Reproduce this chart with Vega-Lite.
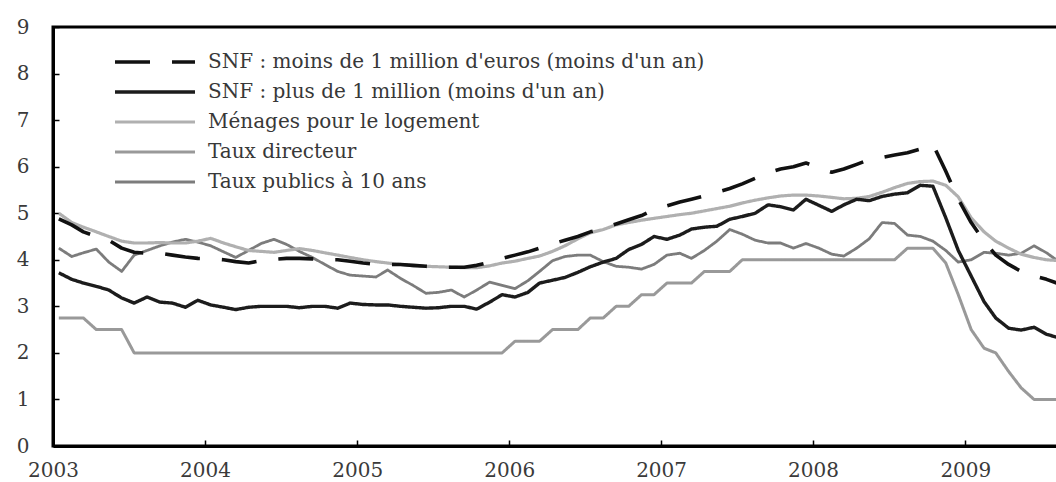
{
  "$schema": "https://vega.github.io/schema/vega-lite/v6.json",
  "width": 1006,
  "height": 419,
  "autosize": {"type": "none"},
  "padding": {"left": 53, "top": 27, "right": 0, "bottom": 36},
  "background": "white",
  "config": {
    "view": {"stroke": "black", "strokeWidth": 3},
    "axis": {
      "labelFont": "DejaVu Serif",
      "labelFontSize": 20,
      "labelColor": "#3a3a3a",
      "domainColor": "black",
      "domainWidth": 3,
      "tickColor": "black",
      "tickWidth": 1.5,
      "tickSize": -6,
      "grid": false,
      "title": null
    }
  },
  "datasets": {
    "series": [
      {"code": "snf_moins", "serie": "SNF : moins de 1 million d'euros (moins d'un an)"},
      {"code": "snf_plus", "serie": "SNF : plus de 1 million (moins d'un an)"},
      {"code": "menages", "serie": "Ménages pour le logement"},
      {"code": "directeur", "serie": "Taux directeur"},
      {"code": "publics", "serie": "Taux publics à 10 ans"}
    ]
  },
  "data": {
    "values": [
      {"d": "2003-01-15", "snf_moins": 4.88, "snf_plus": 3.72, "menages": 5.0, "directeur": 2.75, "publics": 4.25},
      {"d": "2003-02-15", "snf_moins": 4.75, "snf_plus": 3.58, "menages": 4.8, "directeur": 2.75, "publics": 4.07},
      {"d": "2003-03-15", "snf_moins": 4.6, "snf_plus": 3.5, "menages": 4.7, "directeur": 2.75, "publics": 4.15},
      {"d": "2003-04-15", "snf_moins": 4.5, "snf_plus": 3.43, "menages": 4.6, "directeur": 2.5, "publics": 4.23},
      {"d": "2003-05-15", "snf_moins": 4.42, "snf_plus": 3.35, "menages": 4.5, "directeur": 2.5, "publics": 3.95},
      {"d": "2003-06-15", "snf_moins": 4.25, "snf_plus": 3.18, "menages": 4.4, "directeur": 2.5, "publics": 3.75},
      {"d": "2003-07-15", "snf_moins": 4.16, "snf_plus": 3.07, "menages": 4.36, "directeur": 2.0, "publics": 4.1},
      {"d": "2003-08-15", "snf_moins": 4.14, "snf_plus": 3.2, "menages": 4.36, "directeur": 2.0, "publics": 4.2},
      {"d": "2003-09-15", "snf_moins": 4.14, "snf_plus": 3.09, "menages": 4.37, "directeur": 2.0, "publics": 4.3},
      {"d": "2003-10-15", "snf_moins": 4.1, "snf_plus": 3.07, "menages": 4.36, "directeur": 2.0, "publics": 4.38},
      {"d": "2003-11-15", "snf_moins": 4.06, "snf_plus": 2.98, "menages": 4.36, "directeur": 2.0, "publics": 4.44},
      {"d": "2003-12-15", "snf_moins": 4.03, "snf_plus": 3.13, "menages": 4.4, "directeur": 2.0, "publics": 4.38},
      {"d": "2004-01-15", "snf_moins": 4.02, "snf_plus": 3.03, "menages": 4.46, "directeur": 2.0, "publics": 4.3},
      {"d": "2004-02-15", "snf_moins": 4.0, "snf_plus": 2.98, "menages": 4.36, "directeur": 2.0, "publics": 4.17},
      {"d": "2004-03-15", "snf_moins": 3.96, "snf_plus": 2.93, "menages": 4.28, "directeur": 2.0, "publics": 4.05},
      {"d": "2004-04-15", "snf_moins": 3.93, "snf_plus": 2.98, "menages": 4.2, "directeur": 2.0, "publics": 4.2},
      {"d": "2004-05-15", "snf_moins": 3.98, "snf_plus": 3.0, "menages": 4.18, "directeur": 2.0, "publics": 4.35},
      {"d": "2004-06-15", "snf_moins": 4.01, "snf_plus": 3.0, "menages": 4.16, "directeur": 2.0, "publics": 4.44},
      {"d": "2004-07-15", "snf_moins": 4.03, "snf_plus": 3.0, "menages": 4.2, "directeur": 2.0, "publics": 4.33},
      {"d": "2004-08-15", "snf_moins": 4.03, "snf_plus": 2.97, "menages": 4.24, "directeur": 2.0, "publics": 4.18},
      {"d": "2004-09-15", "snf_moins": 4.02, "snf_plus": 3.0, "menages": 4.2, "directeur": 2.0, "publics": 4.05},
      {"d": "2004-10-15", "snf_moins": 4.0, "snf_plus": 3.0, "menages": 4.15, "directeur": 2.0, "publics": 3.9},
      {"d": "2004-11-15", "snf_moins": 4.0, "snf_plus": 2.96, "menages": 4.1, "directeur": 2.0, "publics": 3.75},
      {"d": "2004-12-15", "snf_moins": 3.97, "snf_plus": 3.07, "menages": 4.05, "directeur": 2.0, "publics": 3.67},
      {"d": "2005-01-15", "snf_moins": 3.93, "snf_plus": 3.04, "menages": 4.0, "directeur": 2.0, "publics": 3.65},
      {"d": "2005-02-15", "snf_moins": 3.9, "snf_plus": 3.03, "menages": 3.96, "directeur": 2.0, "publics": 3.63},
      {"d": "2005-03-15", "snf_moins": 3.9, "snf_plus": 3.03, "menages": 3.93, "directeur": 2.0, "publics": 3.78},
      {"d": "2005-04-15", "snf_moins": 3.9, "snf_plus": 3.0, "menages": 3.9, "directeur": 2.0, "publics": 3.6},
      {"d": "2005-05-15", "snf_moins": 3.88, "snf_plus": 2.98, "menages": 3.87, "directeur": 2.0, "publics": 3.45},
      {"d": "2005-06-15", "snf_moins": 3.86, "snf_plus": 2.96, "menages": 3.86, "directeur": 2.0, "publics": 3.28},
      {"d": "2005-07-15", "snf_moins": 3.84, "snf_plus": 2.97, "menages": 3.85, "directeur": 2.0, "publics": 3.3},
      {"d": "2005-08-15", "snf_moins": 3.84, "snf_plus": 3.0, "menages": 3.84, "directeur": 2.0, "publics": 3.35},
      {"d": "2005-09-15", "snf_moins": 3.84, "snf_plus": 3.0, "menages": 3.83, "directeur": 2.0, "publics": 3.2},
      {"d": "2005-10-15", "snf_moins": 3.88, "snf_plus": 2.94, "menages": 3.83, "directeur": 2.0, "publics": 3.35},
      {"d": "2005-11-15", "snf_moins": 3.95, "snf_plus": 3.09, "menages": 3.87, "directeur": 2.0, "publics": 3.52},
      {"d": "2005-12-15", "snf_moins": 4.03, "snf_plus": 3.25, "menages": 3.93, "directeur": 2.0, "publics": 3.45},
      {"d": "2006-01-15", "snf_moins": 4.1, "snf_plus": 3.2, "menages": 3.97, "directeur": 2.25, "publics": 3.38},
      {"d": "2006-02-15", "snf_moins": 4.17, "snf_plus": 3.3, "menages": 4.03, "directeur": 2.25, "publics": 3.55},
      {"d": "2006-03-15", "snf_moins": 4.25, "snf_plus": 3.5, "menages": 4.08, "directeur": 2.25, "publics": 3.75},
      {"d": "2006-04-15", "snf_moins": 4.34, "snf_plus": 3.56, "menages": 4.18, "directeur": 2.5, "publics": 3.98},
      {"d": "2006-05-15", "snf_moins": 4.42, "snf_plus": 3.62, "menages": 4.3, "directeur": 2.5, "publics": 4.07},
      {"d": "2006-06-15", "snf_moins": 4.5, "snf_plus": 3.73, "menages": 4.45, "directeur": 2.5, "publics": 4.1},
      {"d": "2006-07-15", "snf_moins": 4.6, "snf_plus": 3.85, "menages": 4.58, "directeur": 2.75, "publics": 4.1},
      {"d": "2006-08-15", "snf_moins": 4.67, "snf_plus": 3.95, "menages": 4.65, "directeur": 2.75, "publics": 3.96},
      {"d": "2006-09-15", "snf_moins": 4.77, "snf_plus": 4.03, "menages": 4.75, "directeur": 3.0, "publics": 3.86},
      {"d": "2006-10-15", "snf_moins": 4.86, "snf_plus": 4.22, "menages": 4.8, "directeur": 3.0, "publics": 3.84},
      {"d": "2006-11-15", "snf_moins": 4.95, "snf_plus": 4.33, "menages": 4.85, "directeur": 3.25, "publics": 3.8},
      {"d": "2006-12-15", "snf_moins": 5.08, "snf_plus": 4.5, "menages": 4.89, "directeur": 3.25, "publics": 3.9},
      {"d": "2007-01-15", "snf_moins": 5.16, "snf_plus": 4.44, "menages": 4.93, "directeur": 3.5, "publics": 4.1},
      {"d": "2007-02-15", "snf_moins": 5.24, "snf_plus": 4.53, "menages": 4.97, "directeur": 3.5, "publics": 4.14},
      {"d": "2007-03-15", "snf_moins": 5.3, "snf_plus": 4.66, "menages": 5.0, "directeur": 3.5, "publics": 4.03},
      {"d": "2007-04-15", "snf_moins": 5.37, "snf_plus": 4.7, "menages": 5.05, "directeur": 3.75, "publics": 4.2},
      {"d": "2007-05-15", "snf_moins": 5.45, "snf_plus": 4.72, "menages": 5.1, "directeur": 3.75, "publics": 4.4},
      {"d": "2007-06-15", "snf_moins": 5.53, "snf_plus": 4.87, "menages": 5.15, "directeur": 3.75, "publics": 4.65},
      {"d": "2007-07-15", "snf_moins": 5.63, "snf_plus": 4.93, "menages": 5.22, "directeur": 4.0, "publics": 4.55},
      {"d": "2007-08-15", "snf_moins": 5.75, "snf_plus": 5.0, "menages": 5.28, "directeur": 4.0, "publics": 4.42},
      {"d": "2007-09-15", "snf_moins": 5.87, "snf_plus": 5.18, "menages": 5.33, "directeur": 4.0, "publics": 4.36},
      {"d": "2007-10-15", "snf_moins": 5.95, "snf_plus": 5.14, "menages": 5.37, "directeur": 4.0, "publics": 4.36},
      {"d": "2007-11-15", "snf_moins": 6.0, "snf_plus": 5.07, "menages": 5.39, "directeur": 4.0, "publics": 4.25},
      {"d": "2007-12-15", "snf_moins": 6.08, "snf_plus": 5.3, "menages": 5.39, "directeur": 4.0, "publics": 4.35},
      {"d": "2008-01-15", "snf_moins": 5.97, "snf_plus": 5.17, "menages": 5.37, "directeur": 4.0, "publics": 4.25},
      {"d": "2008-02-15", "snf_moins": 5.88, "snf_plus": 5.04, "menages": 5.34, "directeur": 4.0, "publics": 4.12},
      {"d": "2008-03-15", "snf_moins": 5.95, "snf_plus": 5.18, "menages": 5.31, "directeur": 4.0, "publics": 4.08},
      {"d": "2008-04-15", "snf_moins": 6.05, "snf_plus": 5.3, "menages": 5.32, "directeur": 4.0, "publics": 4.25},
      {"d": "2008-05-15", "snf_moins": 6.15, "snf_plus": 5.27, "menages": 5.36, "directeur": 4.0, "publics": 4.45},
      {"d": "2008-06-15", "snf_moins": 6.2, "snf_plus": 5.36, "menages": 5.45, "directeur": 4.0, "publics": 4.8},
      {"d": "2008-07-15", "snf_moins": 6.25, "snf_plus": 5.41, "menages": 5.55, "directeur": 4.0, "publics": 4.78},
      {"d": "2008-08-15", "snf_moins": 6.3, "snf_plus": 5.44, "menages": 5.64, "directeur": 4.25, "publics": 4.53},
      {"d": "2008-09-15", "snf_moins": 6.38, "snf_plus": 5.6, "menages": 5.68, "directeur": 4.25, "publics": 4.5},
      {"d": "2008-10-15", "snf_moins": 6.48, "snf_plus": 5.58, "menages": 5.69, "directeur": 4.25, "publics": 4.4},
      {"d": "2008-11-15", "snf_moins": 5.9, "snf_plus": 4.9, "menages": 5.6, "directeur": 3.93, "publics": 4.2},
      {"d": "2008-12-15", "snf_moins": 5.3, "snf_plus": 4.2, "menages": 5.35, "directeur": 3.25, "publics": 3.95},
      {"d": "2009-01-15", "snf_moins": 4.8, "snf_plus": 3.65, "menages": 4.9, "directeur": 2.5, "publics": 4.0},
      {"d": "2009-02-15", "snf_moins": 4.4, "snf_plus": 3.1, "menages": 4.6, "directeur": 2.1, "publics": 4.16},
      {"d": "2009-03-15", "snf_moins": 4.1, "snf_plus": 2.75, "menages": 4.4, "directeur": 2.0, "publics": 4.14},
      {"d": "2009-04-15", "snf_moins": 3.9, "snf_plus": 2.53, "menages": 4.25, "directeur": 1.6, "publics": 4.1},
      {"d": "2009-05-15", "snf_moins": 3.75, "snf_plus": 2.49, "menages": 4.12, "directeur": 1.25, "publics": 4.14},
      {"d": "2009-06-15", "snf_moins": 3.65, "snf_plus": 2.55, "menages": 4.05, "directeur": 1.0, "publics": 4.3},
      {"d": "2009-07-15", "snf_moins": 3.58, "snf_plus": 2.4, "menages": 4.0, "directeur": 1.0, "publics": 4.15},
      {"d": "2009-08-15", "snf_moins": 3.48, "snf_plus": 2.32, "menages": 3.98, "directeur": 1.0, "publics": 3.95}
    ]
  },
  "transform": [
    {"fold": ["directeur", "publics", "menages", "snf_plus", "snf_moins"], "as": ["code", "taux"]},
    {"lookup": "code", "from": {"data": {"name": "series"}, "key": "code", "fields": ["serie"]}}
  ],
  "mark": {"type": "line", "clip": true, "strokeJoin": "round"},
  "encoding": {
    "x": {
      "field": "d",
      "type": "temporal",
      "scale": {
        "type": "utc",
        "domain": [
          {"year": 2003, "month": 1, "date": 1, "utc": true},
          {"year": 2009, "month": 8, "date": 14, "utc": true}
        ]
      },
      "axis": {
        "values": [
          {"year": 2003, "month": 1, "date": 1, "utc": true},
          {"year": 2004, "month": 1, "date": 1, "utc": true},
          {"year": 2005, "month": 1, "date": 1, "utc": true},
          {"year": 2006, "month": 1, "date": 1, "utc": true},
          {"year": 2007, "month": 1, "date": 1, "utc": true},
          {"year": 2008, "month": 1, "date": 1, "utc": true},
          {"year": 2009, "month": 1, "date": 1, "utc": true}
        ],
        "format": "%Y",
        "formatType": "utc",
        "labelFlush": false,
        "labelPadding": 20
      }
    },
    "y": {
      "field": "taux",
      "type": "quantitative",
      "scale": {"domain": [0, 9], "nice": false, "zero": true},
      "axis": {"values": [0, 1, 2, 3, 4, 5, 6, 7, 8, 9], "labelPadding": 30}
    },
    "color": {
      "field": "serie",
      "type": "nominal",
      "scale": {
        "domain": [
          "SNF : moins de 1 million d'euros (moins d'un an)",
          "SNF : plus de 1 million (moins d'un an)",
          "Ménages pour le logement",
          "Taux directeur",
          "Taux publics à 10 ans"
        ],
        "range": ["#111111", "#1c1c1c", "#b0b0b0", "#999999", "#7c7c7c"]
      },
      "legend": {
        "orient": "none",
        "legendX": 60,
        "legendY": 20,
        "title": null,
        "symbolType": "stroke",
        "symbolSize": 6400,
        "clipHeight": 30,
        "labelOffset": 11,
        "labelFont": "DejaVu Serif",
        "labelFontSize": 20,
        "labelColor": "#383838",
        "labelLimit": 900,
        "padding": 0,
        "rowPadding": 0
      }
    },
    "strokeDash": {
      "field": "serie",
      "type": "nominal",
      "scale": {
        "domain": [
          "SNF : moins de 1 million d'euros (moins d'un an)",
          "SNF : plus de 1 million (moins d'un an)",
          "Ménages pour le logement",
          "Taux directeur",
          "Taux publics à 10 ans"
        ],
        "range": [[35, 22], [1, 0], [1, 0], [1, 0], [1, 0]]
      }
    },
    "strokeWidth": {
      "field": "serie",
      "type": "nominal",
      "scale": {
        "domain": [
          "SNF : moins de 1 million d'euros (moins d'un an)",
          "SNF : plus de 1 million (moins d'un an)",
          "Ménages pour le logement",
          "Taux directeur",
          "Taux publics à 10 ans"
        ],
        "range": [3.6, 2.8, 2.2, 3.4, 1.8]
      }
    }
  }
}
